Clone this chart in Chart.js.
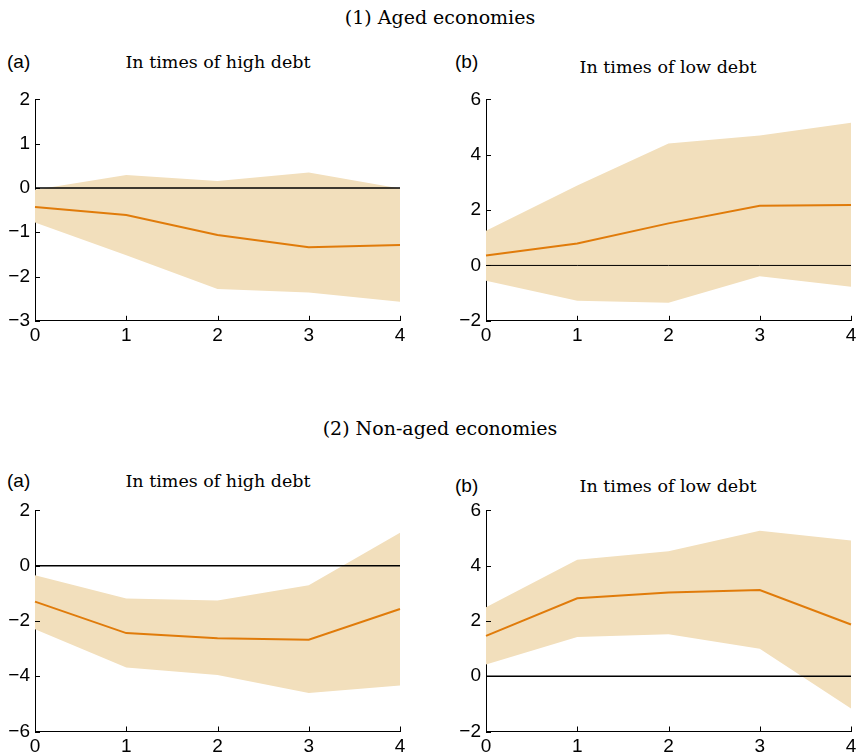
<!DOCTYPE html>
<html>
<head>
<meta charset="utf-8">
<script src="https://cdn.jsdelivr.net/npm/chart.js@4.4.1/dist/chart.umd.min.js"></script>
<style>
  body { margin: 0; background: #fff; }
  #fig { position: relative; width: 858px; height: 753px; overflow: hidden; }
  .sec, .sub { position: absolute; font-family: 'DejaVu Serif', serif; color: #000; white-space: nowrap; transform: translate(-50%, -50%); }
  .sec { font-size: 19px; }
  .sub { font-size: 17.5px; }
  .tag { position: absolute; font-family: 'Liberation Sans', Arial, sans-serif; font-size: 19px; color: #000; transform: translateY(-50%); }
  canvas { position: absolute; }
</style>
</head>
<body>
<div id="fig">
  <div class="sec" style="left:440px; top:17px">(1) Aged economies</div>
  <div class="tag" style="left:7px; top:62px">(a)</div>
  <div class="sub" style="left:218px; top:62px">In times of high debt</div>
  <div class="tag" style="left:455px; top:62px">(b)</div>
  <div class="sub" style="left:668px; top:67px">In times of low debt</div>

  <div class="sec" style="left:440px; top:428px">(2) Non-aged economies</div>
  <div class="tag" style="left:7px; top:481px">(a)</div>
  <div class="sub" style="left:218px; top:481px">In times of high debt</div>
  <div class="tag" style="left:455px; top:486px">(b)</div>
  <div class="sub" style="left:668px; top:486px">In times of low debt</div>

  <canvas id="c1" style="left:0px; top:83px"></canvas>
  <canvas id="c2" style="left:451px; top:83px"></canvas>
  <canvas id="c3" style="left:0px; top:494px"></canvas>
  <canvas id="c4" style="left:451px; top:494px"></canvas>
</div>
<script>
// horizonte (anos)
const horizonte = ['0', '1', '2', '3', '4'];

// (1a) envelhecidas, dívida alta
const agedHighMid = [-0.43, -0.61, -1.06, -1.34, -1.29];
const agedHighUp = [-0.04, 0.29, 0.16, 0.35, -0.01];
const agedHighLow = [-0.78, -1.52, -2.28, -2.36, -2.57];

// (1b) envelhecidas, dívida baixa
const agedLowMid = [0.36, 0.79, 1.52, 2.16, 2.18];
const agedLowUp = [1.25, 2.89, 4.41, 4.70, 5.16];
const agedLowLow = [-0.55, -1.28, -1.35, -0.39, -0.77];

// (2a) não envelhecidas, dívida alta
const nonAgedHighMid = [-1.30, -2.44, -2.63, -2.68, -1.57];
const nonAgedHighUp = [-0.35, -1.19, -1.26, -0.71, 1.19];
const nonAgedHighLow = [-2.30, -3.68, -3.96, -4.61, -4.34];

// (2b) não envelhecidas, dívida baixa
const nonAgedLowMid = [1.46, 2.82, 3.03, 3.12, 1.87];
const nonAgedLowUp = [2.50, 4.21, 4.52, 5.26, 4.91];
const nonAgedLowLow = [0.42, 1.42, 1.52, 0.99, -1.17];

const corLinha = '#e07b0a';
const corBanda = 'rgb(242,223,188)';

// ticks para dentro, estilo matlab
const ticksDentro = {
    id: 'ticksDentro',
    afterDraw(chart) {
        const ctx = chart.ctx;
        const x = chart.scales.x, y = chart.scales.y;
        ctx.save();
        ctx.strokeStyle = '#000';
        ctx.lineWidth = 1;
        ctx.beginPath();
        y.ticks.forEach(t => {
            const py = Math.round(y.getPixelForValue(t.value)) + 0.5;
            ctx.moveTo(x.left, py);
            ctx.lineTo(x.left + 5, py);
        });
        x.ticks.forEach((t, i) => {
            const px = Math.round(x.getPixelForTick(i)) + 0.5;
            ctx.moveTo(px, y.bottom);
            ctx.lineTo(px, y.bottom - 5);
        });
        ctx.stroke();
        ctx.restore();
    }
};

// topo = distância do topo do canvas até a área do gráfico; altura da área = 221.5
function desenha(id, mid, up, low, yMin, yMax, passo, altura, topo, espZero) {
    const canvas = document.getElementById(id);
    canvas.width = 420;
    canvas.height = altura;
    canvas.style.width = '420px';
    canvas.style.height = altura + 'px';

    new Chart(canvas.getContext('2d'), {
        type: 'line',
        data: {
            labels: horizonte,
            datasets: [
                { data: mid, borderColor: corLinha, borderWidth: 2, pointRadius: 0, fill: false, tension: 0 },
                { data: horizonte.map(() => 0), borderColor: '#000', borderWidth: espZero, pointRadius: 0, fill: false },
                { data: up, borderWidth: 0, borderColor: 'rgba(0,0,0,0)', backgroundColor: corBanda, pointRadius: 0, fill: '+1' },
                { data: low, borderWidth: 0, borderColor: 'rgba(0,0,0,0)', pointRadius: 0, fill: false }
            ]
        },
        options: {
            responsive: false,
            animation: false,
            events: [],
            layout: { padding: { top: topo, right: 20, left: 0, bottom: 0 } },
            plugins: { legend: { display: false }, tooltip: { enabled: false } },
            scales: {
                x: {
                    offset: false,
                    grid: { display: false, drawTicks: false },
                    border: { display: true, color: '#000', width: 1 },
                    ticks: { padding: 4, color: '#000', font: { family: 'Liberation Sans', size: 19 } },
                    afterFit: s => { s.height = altura - topo - 221.5; }
                },
                y: {
                    min: yMin,
                    max: yMax,
                    grid: { display: false, drawTicks: false },
                    border: { display: true, color: '#000', width: 1 },
                    ticks: {
                        stepSize: passo,
                        padding: 5,
                        color: '#000',
                        font: { family: 'Liberation Sans', size: 19 },
                        callback: v => v < 0 ? '\u2212' + Math.abs(v) : String(v)
                    },
                    afterFit: s => { s.width = 35; }
                }
            }
        },
        plugins: [ticksDentro]
    });
}

desenha('c1', agedHighMid, agedHighUp, agedHighLow, -3, 2, 1, 267, 16.3, 1.5);
desenha('c2', agedLowMid, agedLowUp, agedLowLow, -2, 6, 2, 267, 16.3, 1);
desenha('c3', nonAgedHighMid, nonAgedHighUp, nonAgedHighLow, -6, 2, 2, 259, 16, 1.5);
desenha('c4', nonAgedLowMid, nonAgedLowUp, nonAgedLowLow, -2, 6, 2, 259, 16, 1.5);
</script>
</body>
</html>
